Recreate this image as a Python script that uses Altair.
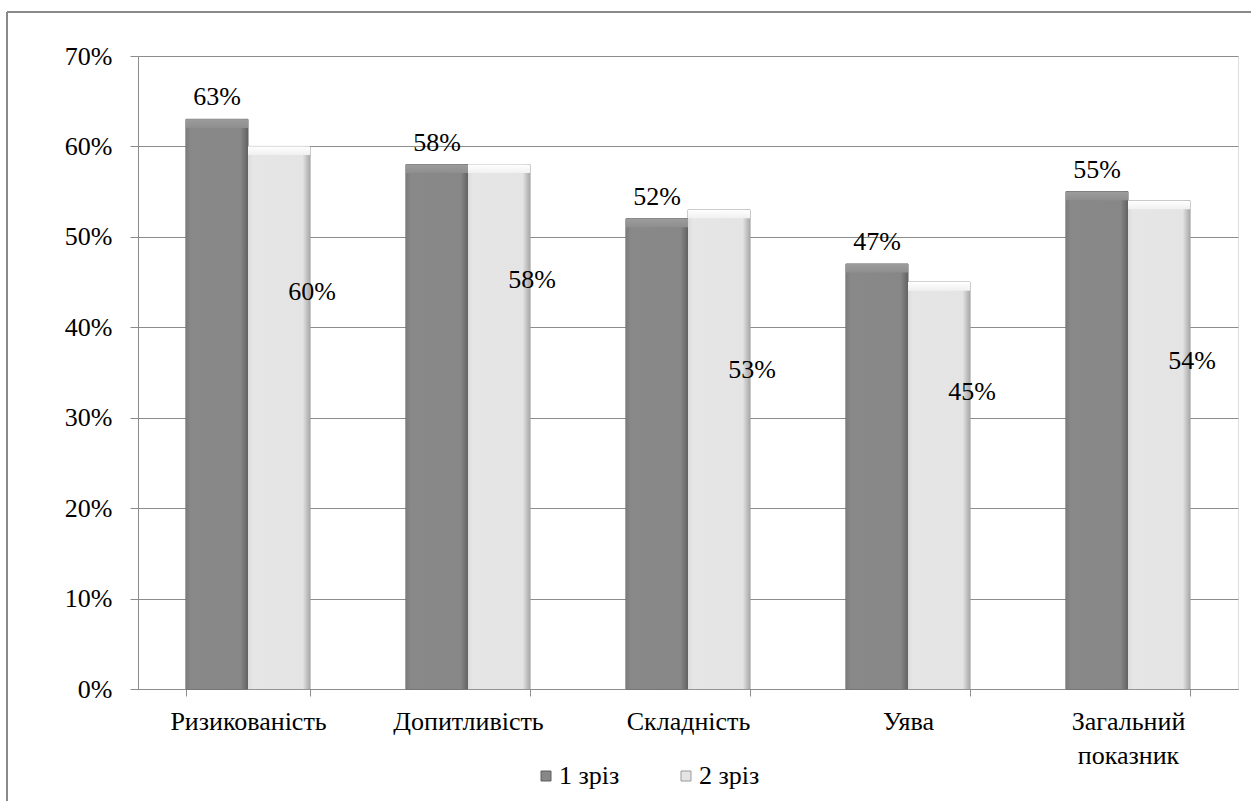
import altair as alt
import pandas as pd

categories = ["Ризикованість", "Допитливість", "Складність", "Уява", "Загальний показник"]
series_names = ["1 зріз", "2 зріз"]
series1 = [0.63, 0.58, 0.52, 0.47, 0.55]
series2 = [0.60, 0.58, 0.53, 0.45, 0.54]
# where the "2 зріз" value labels sit in the picture (in axis units)
label2_pos = [0.439, 0.452, 0.353, 0.328, 0.363]

rows = []
for i, c in enumerate(categories):
    rows.append({"cat": c, "series": series_names[0], "value": series1[i], "lab": series1[i]})
    rows.append({"cat": c, "series": series_names[1], "value": series2[i], "lab": label2_pos[i]})
df = pd.DataFrame(rows)

FONT = "Liberation Serif"
FS = 26
GRID = "#8c8c8c"

x_enc = alt.X(
    "cat:N",
    sort=categories,
    scale=alt.Scale(paddingInner=0.436, paddingOuter=0.218),
    axis=alt.Axis(
        title=None, labelAngle=0, labelFontSize=FS, labelFont=FONT, labelColor="#000",
        labelExpr="split(datum.label, ' ')", labelLineHeight=34,
        tickBand="extent", tickSize=7, tickColor=GRID, domainColor=GRID,
        labelPadding=12, grid=False, labelBaseline="top",
    ),
)
xoff = alt.XOffset("series:N", sort=series_names,
                   scale=alt.Scale(domain=series_names, paddingInner=0, paddingOuter=0))
y_enc = alt.Y(
    "value:Q",
    scale=alt.Scale(domain=[0, 0.7], nice=False),
    axis=alt.Axis(
        title=None, format=".0%", values=[0, 0.1, 0.2, 0.3, 0.4, 0.5, 0.6, 0.7],
        labelFontSize=FS, labelFont=FONT, labelColor="#000", labelPadding=18,
        tickSize=8, tickColor=GRID, domainColor=GRID, gridColor=GRID, gridWidth=1,
    ),
)

base = alt.Chart(df)

bars = base.mark_bar(strokeWidth=1).encode(
    x=x_enc, xOffset=xoff, y=y_enc,
    color=alt.Color(
        "series:N", sort=series_names,
        scale=alt.Scale(domain=series_names, range=["#878787", "#e4e4e4"]),
        legend=alt.Legend(
            title=None, orient="none", legendX=395, legendY=707, direction="horizontal",
            symbolType="square", symbolSize=100, symbolStrokeColor="#666", symbolStrokeWidth=1,
            labelFontSize=FS, labelFont=FONT, labelColor="#000", labelOffset=0,
            columnPadding=53,
        ),
    ),
    stroke=alt.Stroke("series:N", scale=alt.Scale(domain=series_names, range=["#5e5e5e", "#9a9a9a"]), legend=None),
)

grad1 = alt.Gradient(gradient="linear", x1=0, x2=1, y1=0, y2=0, stops=[
    alt.GradientStop(offset=0, color="#7c7c7c"),
    alt.GradientStop(offset=0.08, color="#898989"),
    alt.GradientStop(offset=0.88, color="#878787"),
    alt.GradientStop(offset=1, color="#626262"),
])
grad2 = alt.Gradient(gradient="linear", x1=0, x2=1, y1=0, y2=0, stops=[
    alt.GradientStop(offset=0, color="#dcdcdc"),
    alt.GradientStop(offset=0.08, color="#e6e6e6"),
    alt.GradientStop(offset=0.88, color="#e4e4e4"),
    alt.GradientStop(offset=1, color="#a8a8a8"),
])
gtop1 = alt.Gradient(gradient="linear", x1=0, x2=0, y1=0, y2=1, stops=[
    alt.GradientStop(offset=0, color="#9c9c9c"),
    alt.GradientStop(offset=1, color="#8e8e8e"),
])
gtop2 = alt.Gradient(gradient="linear", x1=0, x2=0, y1=0, y2=1, stops=[
    alt.GradientStop(offset=0, color="#ffffff"),
    alt.GradientStop(offset=1, color="#f0f0f0"),
])

xs = alt.X("cat:N", sort=categories)

shade1 = base.transform_filter(alt.datum.series == series_names[0]).mark_bar(color=grad1).encode(
    x=xs, xOffset=xoff, y="value:Q")
shade2 = base.transform_filter(alt.datum.series == series_names[1]).mark_bar(color=grad2).encode(
    x=xs, xOffset=xoff, y="value:Q")

top1 = base.transform_filter(alt.datum.series == series_names[0]).transform_calculate(
    v2="datum.value - 0.0095").mark_bar(color=gtop1).encode(
    x=xs, xOffset=xoff, y="value:Q", y2="v2:Q")
top2 = base.transform_filter(alt.datum.series == series_names[1]).transform_calculate(
    v2="datum.value - 0.0095").mark_bar(color=gtop2).encode(
    x=xs, xOffset=xoff, y="value:Q", y2="v2:Q")

lab1 = base.transform_filter(alt.datum.series == series_names[0]).mark_text(
    font=FONT, fontSize=FS, color="#000", baseline="middle", dy=-22).encode(
    x=xs, xOffset=xoff, y="value:Q",
    text=alt.Text("value:Q", format=".0%"))
lab2 = base.transform_filter(alt.datum.series == series_names[1]).mark_text(
    font=FONT, fontSize=FS, color="#000", baseline="middle", dx=33).encode(
    x=xs, xOffset=xoff, y="lab:Q",
    text=alt.Text("value:Q", format=".0%"))

frame_data = alt.Data(values=[{"k": 1}])
frame_left = alt.Chart(frame_data).mark_rule(color="#8a8a8a", strokeWidth=2).encode(
    x=alt.value(-131), y=alt.value(-44), y2=alt.value(760))
frame_top = alt.Chart(frame_data).mark_rule(color="#8a8a8a", strokeWidth=2).encode(
    x=alt.value(-131), x2=alt.value(1130), y=alt.value(-44))

chart = alt.layer(
    bars, shade1, shade2, top1, top2, lab1, lab2, frame_left, frame_top
).properties(
    width=1100, height=633,
    autosize=alt.AutoSizeParams(type="none"),
    padding={"left": 138, "top": 56, "right": 13, "bottom": 112},
    background="white",
).configure_view(stroke=None).configure(font=FONT)

chart.save("out.html", embed_options={"renderer": "svg", "actions": False})
